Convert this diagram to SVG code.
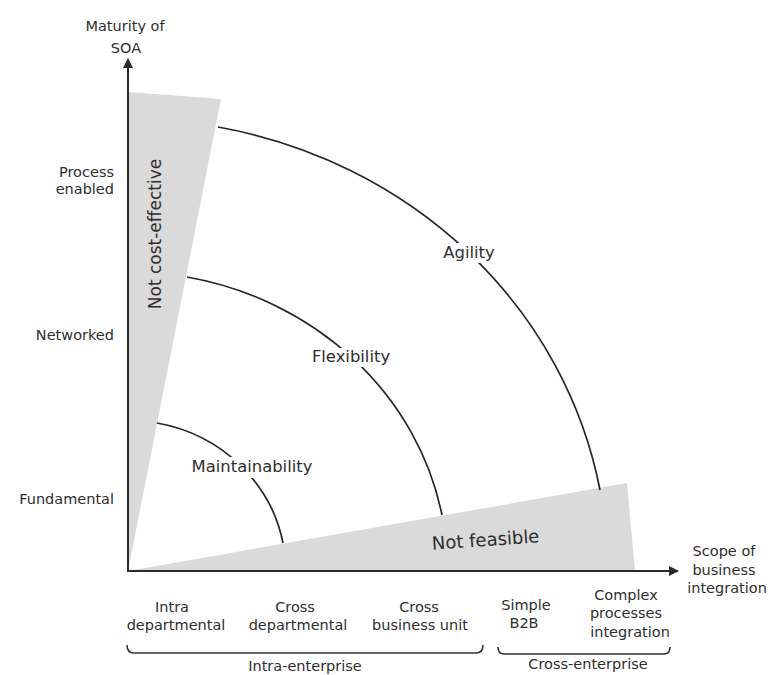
<svg xmlns="http://www.w3.org/2000/svg" width="768" height="675" viewBox="0 0 768 675">
  <defs>
    <style>
      text { font-family: "DejaVu Sans", "Liberation Sans", sans-serif; fill: #2e2e2e; }
      .lbl { font-size: 14.5px; }
      .big { font-size: 16.4px; }
      .mid { text-anchor: middle; }
      .end { text-anchor: end; }
      .zone { fill: #dadada; }
      .axis { stroke: #2a2a2a; stroke-width: 2; fill: none; }
      .arc { stroke: #262626; stroke-width: 1.7; fill: none; }
      .brace { stroke: #333; stroke-width: 1.6; fill: none; }
      .gap { fill: #ffffff; }
    </style>
    <marker id="arrow" viewBox="0 0 10 10" refX="9" refY="5" markerWidth="5" markerHeight="5" orient="auto" markerUnits="strokeWidth">
      <path d="M0,0 L10,5 L0,10 z" fill="#2a2a2a"/>
    </marker>
  </defs>

  <!-- shaded zones -->
  <g id="zone-not-cost-effective">
    <polygon class="zone" points="128,571 128,92 221,99"/>
    <text transform="translate(161,234) rotate(-90)" class="mid" style="font-size:17px">Not cost-effective</text>
  </g>
  <g id="zone-not-feasible">
    <polygon class="zone" points="128,571 627,483 635,571"/>
    <text transform="translate(486,546) rotate(-4)" class="mid" style="font-size:18px">Not feasible</text>
  </g>

  <!-- maturity contours -->
  <g id="connectors">
    <path class="arc" d="M157,423 A157.7,150.7 0 0 1 283,543"/>
    <path class="arc" d="M187,277 A319.8,299.3 0 0 1 442,515"/>
    <path class="arc" d="M218,127 A479.7,452 0 0 1 600,490"/>
  </g>

  <g id="maintainability">
    <rect class="gap" x="192" y="457" width="121" height="21"/>
    <text class="big mid" x="252" y="472">Maintainability</text>
  </g>
  <g id="flexibility">
    <rect class="gap" x="311" y="348" width="80" height="19"/>
    <text class="big mid" x="351" y="362">Flexibility</text>
  </g>
  <g id="agility">
    <rect class="gap" x="443" y="243" width="52" height="20"/>
    <text class="big mid" x="469" y="258">Agility</text>
  </g>

  <!-- axes -->
  <g id="axes">
    <line class="axis" x1="128" y1="572" x2="128" y2="59" marker-end="url(#arrow)"/>
    <line class="axis" x1="127" y1="571" x2="678" y2="571" marker-end="url(#arrow)"/>
  </g>

  <g id="y-axis-title">
    <text class="lbl mid" x="125" y="31">Maturity of</text>
    <text class="lbl mid" x="126" y="53">SOA</text>
  </g>
  <g id="y-levels">
    <text class="lbl end" x="114" y="177">Process</text>
    <text class="lbl end" x="114" y="194">enabled</text>
    <text class="lbl end" x="114" y="340">Networked</text>
    <text class="lbl end" x="114" y="504">Fundamental</text>
  </g>

  <g id="x-axis-title">
    <text class="lbl mid" x="724" y="556">Scope of</text>
    <text class="lbl mid" x="724" y="575">business</text>
    <text class="lbl mid" x="727" y="593">integration</text>
  </g>

  <g id="x-levels">
    <text class="lbl mid" x="172" y="612">Intra</text>
    <text class="lbl mid" x="176" y="630">departmental</text>
    <text class="lbl mid" x="295" y="612">Cross</text>
    <text class="lbl mid" x="298" y="630">departmental</text>
    <text class="lbl mid" x="419" y="612">Cross</text>
    <text class="lbl mid" x="420" y="630">business unit</text>
    <text class="lbl mid" x="526" y="610">Simple</text>
    <text class="lbl mid" x="524" y="628">B2B</text>
    <text class="lbl mid" x="626" y="600">Complex</text>
    <text class="lbl mid" x="626" y="618">processes</text>
    <text class="lbl mid" x="630" y="637">integration</text>
  </g>

  <g id="intra-enterprise">
    <path class="brace" d="M127,645 Q127,653 134,653 L476,653 Q483,653 483,645"/>
    <text class="lbl mid" x="305" y="671">Intra-enterprise</text>
  </g>
  <g id="cross-enterprise">
    <path class="brace" d="M498,647 Q498,654 504,654 L664,654 Q670,654 670,647"/>
    <text class="lbl mid" x="588" y="669">Cross-enterprise</text>
  </g>
</svg>
